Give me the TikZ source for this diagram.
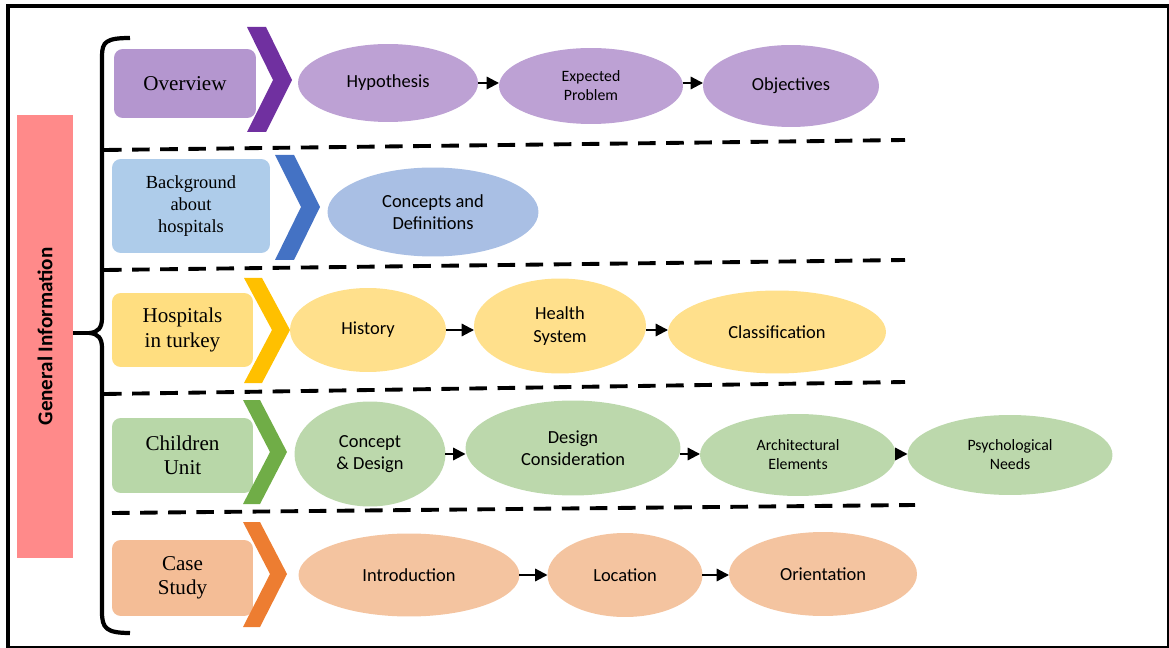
\documentclass[tikz,border=0pt]{standalone}
\usepackage{fontspec}
\setmainfont{Liberation Serif}
\newfontfamily\calib{Carlito}
\usetikzlibrary{shapes.geometric,arrows.meta}

\definecolor{pinkbar}{HTML}{FF8A8A}
\definecolor{ovbox}{HTML}{B496CF}
\definecolor{ovell}{HTML}{BDA1D4}
\definecolor{ovchev}{HTML}{7030A0}
\definecolor{bgbox}{HTML}{AECCEA}
\definecolor{bgell}{HTML}{A9BFE4}
\definecolor{bgchev}{HTML}{4472C4}
\definecolor{htbox}{HTML}{FFDE80}
\definecolor{htell}{HTML}{FFE08C}
\definecolor{htchev}{HTML}{FFC000}
\definecolor{cubox}{HTML}{B8D7A8}
\definecolor{cuell}{HTML}{BCD8AC}
\definecolor{cuchev}{HTML}{70AD47}
\definecolor{csbox}{HTML}{F4BD96}
\definecolor{csell}{HTML}{F4C4A0}
\definecolor{cschev}{HTML}{ED7D31}

\begin{document}
\begin{tikzpicture}[x=0.02cm, y=-0.02cm, inner sep=0, outer sep=0,
  sect/.style={rectangle, rounded corners=5pt, align=center, font=\fontsize{12}{13.8}\selectfont},
  topic/.style={ellipse, align=center, font=\calib\fontsize{10.5}{12.8}\selectfont},
  small/.style={font=\calib\fontsize{9}{10.8}\selectfont},
  flow/.style={draw=black, line width=1.2pt, -{Triangle[length=7pt,width=7pt]}},
  sep/.style={draw=black, line width=2.2pt, dash pattern=on 10pt off 6pt},
  brace/.style={draw=black, line width=2.4pt}]
  \useasboundingbox (0,0) rectangle (1169,648);

  % frame
  \draw[line width=0.7pt] (8,647) -- (1168,647) -- (1168,6);
  \draw[line width=2.3pt] (8,648) -- (8,6) -- (1169,6);

  \node[rectangle, fill=pinkbar, rotate=90,
    minimum width=8.86cm, minimum height=1.12cm,
    font=\calib\bfseries\fontsize{12}{14}\selectfont] (gi) at (45,336.5) {General Information};

  % brace
  \coordinate (tip) at (90,333);
  \draw[brace] (130,38) .. controls (106,38) and (102,42) .. (102,56) -- (102,318)
    .. controls (102,328) and (98,332) .. (tip)
    .. controls (98,334) and (102,338) .. (102,348) -- (102,612)
    .. controls (102,628) and (106,633) .. (130,633);
  \draw[brace] (gi.south |- tip) -- (tip);

  % separators
  \draw[sep] (104,150) -- (905,140);
  \draw[sep] (104,270) -- (905,260);
  \draw[sep] (104,394) -- (905,382);
  \draw[sep] (112,513) -- (915,505);

  \node[sect, fill=ovbox, minimum width=2.84cm, minimum height=1.38cm] (ov) at (185,83.5) {Overview};
  \node[sect, fill=bgbox, minimum width=3.16cm, minimum height=1.88cm,
    font=\fontsize{10.5}{12.5}\selectfont] (bg) at (191,206) {Background\\about\\hospitals};
  \node[sect, fill=htbox, minimum width=2.82cm, minimum height=1.48cm] (ht) at (182.5,330) {Hospitals\\in turkey};
  \node[sect, fill=cubox, minimum width=2.82cm, minimum height=1.5cm] (cu) at (182.5,455.5) {Children\\Unit};
  \node[sect, fill=csbox, minimum width=2.82cm, minimum height=1.52cm] (cs) at (182.5,578) {Case\\Study};

  % chevrons
  \fill[ovchev] (247,27) -- (266,27) -- (292,80) -- (266,132) -- (247,132) -- (273,80) -- cycle;
  \fill[bgchev] (275,155) -- (294,155) -- (320,207) -- (294,260) -- (275,260) -- (301,207) -- cycle;
  \fill[htchev] (244,278) -- (262,278) -- (290,330) -- (262,383) -- (244,383) -- (272,330) -- cycle;
  \fill[cuchev] (243,400) -- (260,400) -- (287,452) -- (260,504) -- (243,504) -- (270,452) -- cycle;
  \fill[cschev] (243,522) -- (260,522) -- (287,574) -- (260,627) -- (243,627) -- (270,574) -- cycle;

  % overview
  \node[topic, fill=ovell, minimum width=3.6cm, minimum height=1.56cm] (hyp) at (388,83) {Hypothesis};
  \node[topic, small, fill=ovell, minimum width=3.68cm, minimum height=1.52cm] (expb) at (591,86) {Expected\\Problem};
  \node[topic, fill=ovell, minimum width=3.52cm, minimum height=1.64cm] (obj) at (791,86) {Objectives};
  \draw[flow] (hyp.east) -- (hyp.east -| expb.west);
  \draw[flow] (expb.east |- hyp.east) -- (hyp.east -| obj.west);

  % background
  \node[topic, fill=bgell, minimum width=4.22cm, minimum height=1.78cm] (cdef) at (433,212) {Concepts and\\Definitions};

  % hospitals in turkey
  \node[topic, fill=htell, minimum width=3.12cm, minimum height=1.68cm] (hist) at (368,330) {History};
  \node[topic, fill=htell, minimum width=3.44cm, minimum height=1.9cm] (health) at (560,326) {Health\\System};
  \node[topic, fill=htell, minimum width=4.36cm, minimum height=1.66cm] (classif) at (777,332) {Classification};
  \draw[flow] (hist.east) -- (hist.east -| health.west);
  \draw[flow] (health.east |- hist.east) -- (hist.east -| classif.west);

  % children unit
  \node[topic, fill=cuell, minimum width=3.02cm, minimum height=2.1cm] (cdes) at (370,454) {Concept\\\& Design};
  \node[topic, fill=cuell, minimum width=4.3cm, minimum height=1.9cm] (dcons) at (573,448) {Design\\Consideration};
  \node[topic, small, fill=cuell, minimum width=3.92cm, minimum height=1.64cm] (arch) at (798,455) {Architectural\\Elements};
  \node[topic, small, fill=cuell, minimum width=4.1cm, minimum height=1.6cm] (psych) at (1010,455) {Psychological\\Needs};
  \draw[flow] (cdes.east) -- (cdes.east -| dcons.west);
  \draw[flow] (dcons.east |- cdes.east) -- (cdes.east -| arch.west);
  \draw[flow] (arch.east |- cdes.east) -- (cdes.east -| psych.west);

  % case study
  \node[topic, fill=csell, minimum width=4.42cm, minimum height=1.66cm] (intro) at (409,575) {Introduction};
  \node[topic, fill=csell, minimum width=3.1cm, minimum height=1.68cm] (loc) at (625,575) {Location};
  \node[topic, fill=csell, minimum width=3.76cm, minimum height=1.68cm] (orient) at (823,574) {Orientation};
  \draw[flow] (intro.east) -- (intro.east -| loc.west);
  \draw[flow] (loc.east |- intro.east) -- (intro.east -| orient.west);
\end{tikzpicture}
\end{document}
